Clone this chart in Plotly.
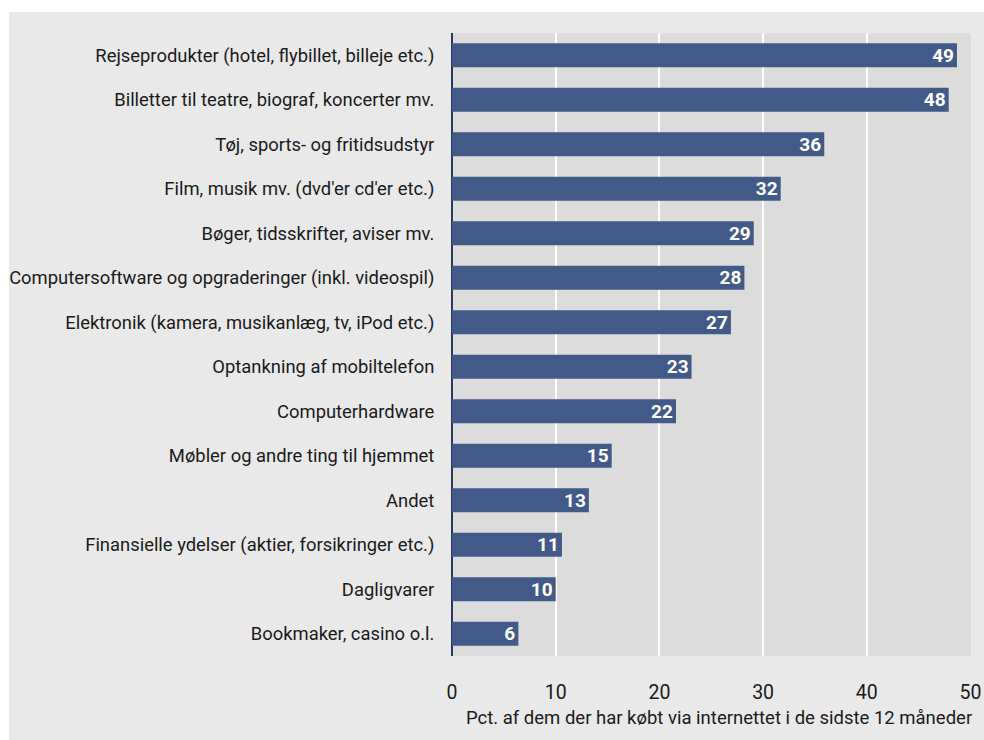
import plotly.graph_objects as go

categories = [
    "Rejseprodukter (hotel, flybillet, billeje etc.)",
    "Billetter til teatre, biograf, koncerter mv.",
    "Tøj, sports- og fritidsudstyr",
    "Film, musik mv. (dvd'er cd'er etc.)",
    "Bøger, tidsskrifter, aviser mv.",
    "Computersoftware og opgraderinger (inkl. videospil)",
    "Elektronik (kamera, musikanlæg, tv, iPod etc.)",
    "Optankning af mobiltelefon",
    "Computerhardware",
    "Møbler og andre ting til hjemmet",
    "Andet",
    "Finansielle ydelser (aktier, forsikringer etc.)",
    "Dagligvarer",
    "Bookmaker, casino o.l.",
]
values = [48.7, 47.9, 35.9, 31.7, 29.1, 28.2, 26.9, 23.1, 21.6, 15.4, 13.2, 10.6, 10.0, 6.4]
labels = ["49", "48", "36", "32", "29", "28", "27", "23", "22", "15", "13", "11", "10", "6"]
xticks = [0, 10, 20, 30, 40, 50]
x_title = "Pct. af dem der har købt via internettet i de sidste 12 måneder"

FONT = "Roboto"
W, H = 984, 740
L, R, T, B = 452, 13, 33, 84
pw, ph = W - L - R, H - T - B

fig = go.Figure(go.Bar(
    x=values, y=categories, orientation="h",
    marker=dict(color="#425a87", line=dict(width=0)),
    text=labels, textposition="inside", insidetextanchor="end", textangle=0,
    constraintext="none",
    textfont=dict(family=FONT, size=19, color="white", weight="bold"),
    cliponaxis=False,
))

fig.update_layout(
    width=W, height=H,
    margin=dict(l=L, r=R, t=T, b=B, autoexpand=False),
    paper_bgcolor="#e9e9e9",
    plot_bgcolor="#dcdcdc",
    bargap=0.46,
    showlegend=False,
    font=dict(family=FONT, size=19, color="#1a1a1a"),
    xaxis=dict(
        range=[0, 50.05], tickvals=xticks, showgrid=True, gridcolor="white", gridwidth=2,
        zeroline=True, zerolinecolor="#2b3a5c", zerolinewidth=2,
        showline=False, ticks="outside", ticklen=19, tickcolor="rgba(0,0,0,0)",
        tickfont=dict(family=FONT, size=19.5, color="#1a1a1a"), fixedrange=True,
        automargin=False,
    ),
    yaxis=dict(
        autorange="reversed", showgrid=False, ticks="outside", ticklen=13,
        tickcolor="rgba(0,0,0,0)", automargin=False,
        tickfont=dict(family=FONT, size=18.4, color="#1a1a1a"),
    ),
    shapes=[
        dict(type="rect", xref="paper", yref="paper",
             x0=-L / pw - 0.01, x1=1 + R / pw + 0.01,
             y0=1 + (T - 12) / ph, y1=1 + T / ph + 0.01,
             line=dict(width=0), fillcolor="white", layer="below"),
        dict(type="rect", xref="paper", yref="paper",
             x0=-L / pw - 0.01, x1=-(L - 9) / pw,
             y0=-B / ph - 0.01, y1=1 + T / ph + 0.01,
             line=dict(width=0), fillcolor="white", layer="below"),
    ],
    annotations=[dict(
        text=x_title, xref="paper", yref="paper", x=1 + 3 / pw, y=-(718 - (H - B)) / ph,
        xanchor="right", yanchor="middle", showarrow=False,
        font=dict(family=FONT, size=18.5, color="#1a1a1a"),
    )],
)

fig.write_html("out.html", config={"displayModeBar": False},
               post_script="document.body.style.margin='0';")
